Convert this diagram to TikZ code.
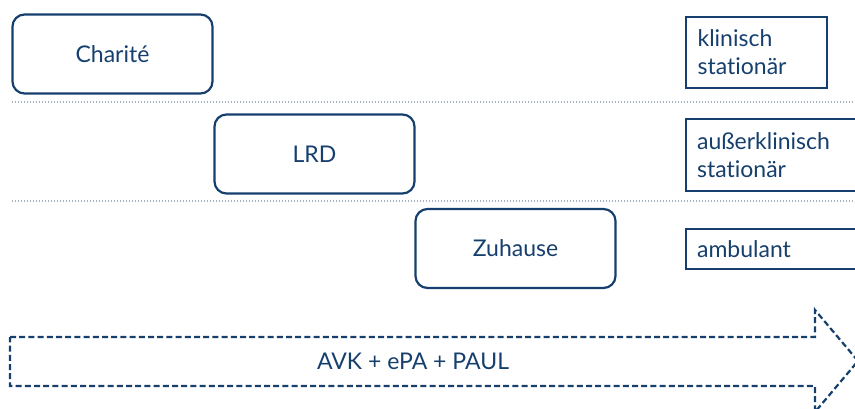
\documentclass[tikz,border=0pt]{standalone}
\usepackage{fontspec}
\setmainfont{Lato}[Ligatures={NoCommon}]
\usepackage{tikz}
\usetikzlibrary{positioning}
\definecolor{chblue}{HTML}{163F6E}
\definecolor{sepgray}{HTML}{A3AFC2}
\tikzset{
  place/.style={draw=chblue, line width=1.1pt, rounded corners=6pt, text=chblue,
    minimum width=100pt, minimum height=39.5pt, font=\fontsize{11.5}{14}\selectfont},
  sector/.style={draw=chblue, line width=1.1pt, text=chblue, anchor=west,
    align=left, inner xsep=5.5pt, font=\fontsize{11.5}{14}\selectfont},
  sep/.style={draw=sepgray, dash pattern=on 0.6pt off 0.9pt, line width=0.6pt}
}

\begin{document}
\begin{tikzpicture}[x=0.5pt, y=-0.5pt]
\useasboundingbox (0,0) rectangle (855,408);

\draw[sep] (12,102) -- (855,102);
\draw[sep] (12,201) -- (855,201);

\node[place] (charite) at (112.5,54) {Charité};
\node[place] (lrd) at (314.5,154) {LRD};
\node[place] (zuhause) at (515.5,248.5) {Zuhause};

\node[sector, minimum width=70.5pt, minimum height=35.5pt, text width=59pt] (klinisch) at (685,52.5) {klinisch\\stationär};
\node[sector, minimum width=92pt, minimum height=36pt, text width=81pt] (ausser) at (685,155) {außerklinisch\\stationär};
\node[sector, minimum width=92pt, minimum height=20pt, text width=81pt] (ambulant) at (685,249) {ambulant};

\draw[chblue, line width=1.1pt, dash pattern=on 3pt off 1.6pt]
  (10,337) -- (815,337) -- (815,310) -- (858,361) -- (815,412) -- (815,386) -- (10,386) -- cycle;
\node[text=chblue, font=\fontsize{11.5}{14}\selectfont] (tools) at (413,361) {AVK + ePA + PAUL};

\end{tikzpicture}
\end{document}
